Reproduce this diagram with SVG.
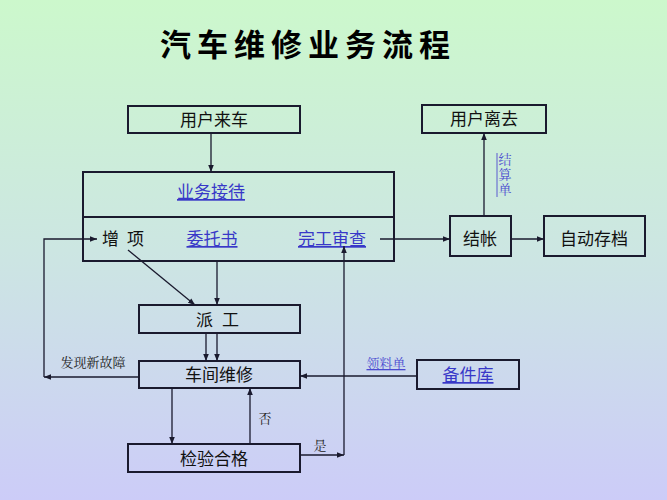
<svg xmlns="http://www.w3.org/2000/svg" width="667" height="500" viewBox="0 0 667 500">
<defs>
<linearGradient id="bg" x1="0" y1="0" x2="0" y2="1">
<stop offset="0" stop-color="#ccf8cc"/>
<stop offset="0.5" stop-color="#cce6e2"/>
<stop offset="1" stop-color="#ccccf8"/>
</linearGradient>
<marker id="ah" viewBox="0 0 10 10" refX="10" refY="5" markerWidth="7" markerHeight="7" orient="auto" markerUnits="userSpaceOnUse">
<path d="M0,1 L10,5 L0,9 z" fill="#1a1a2e"/>
</marker>
<style>
.box{fill:none;stroke:#1a1a2e;stroke-width:2}
.t{font-family:"Liberation Sans","Noto Sans CJK SC",sans-serif;font-size:17px;fill:#111;text-anchor:middle}
.link{font-family:"Liberation Sans","Noto Sans CJK SC",sans-serif;font-size:17px;fill:#3838c8;text-anchor:middle;text-decoration:underline}
.lbl{font-family:"Noto Serif CJK SC","Noto Sans CJK SC",serif;font-size:13px;fill:#222;text-anchor:middle}
.lbllink{font-family:"Noto Serif CJK SC","Noto Sans CJK SC",serif;font-size:13px;fill:#4a4ad0;text-anchor:middle;text-decoration:underline}
.c{fill:none;stroke:#1a1a2e;stroke-width:1.3}
</style>
</defs>
<rect width="667" height="500" fill="url(#bg)"/>
<text x="308" y="56" font-family="Noto Sans CJK SC,sans-serif" font-size="31" font-weight="bold" fill="#000" text-anchor="middle" letter-spacing="6">汽车维修业务流程</text>

<g id="node-arrive"><rect class="box" x="128" y="106" width="172" height="27"/><text class="t" x="214" y="126">用户来车</text></g>
<g id="node-leave"><rect class="box" x="422" y="105" width="124" height="28"/><text class="t" x="484" y="125">用户离去</text></g>
<g id="node-reception">
<rect class="box" x="83" y="172" width="311" height="89"/>
<line class="box" x1="83" y1="217" x2="394" y2="217"/>
<text class="link" x="211" y="198">业务接待</text>
<text class="t" x="127" y="245" letter-spacing="8">增项</text>
<text class="link" x="212" y="245">委托书</text>
<text class="link" x="332" y="245">完工审查</text>
</g>
<g id="node-checkout"><rect class="box" x="450" y="216" width="61" height="40"/><text class="t" x="480" y="245">结帐</text></g>
<g id="node-archive"><rect class="box" x="544" y="216" width="101" height="40"/><text class="t" x="594" y="245">自动存档</text></g>
<g id="node-dispatch"><rect class="box" x="139" y="305" width="161" height="28"/><text class="t" x="222" y="326" letter-spacing="9">派工</text></g>
<g id="node-repair"><rect class="box" x="139" y="361" width="161" height="27"/><text class="t" x="219" y="381">车间维修</text></g>
<g id="node-inspect"><rect class="box" x="128" y="444" width="172" height="28"/><text class="t" x="214" y="465">检验合格</text></g>
<g id="node-parts"><rect class="box" x="417" y="360" width="102" height="29"/><text class="link" x="468" y="381">备件库</text></g>

<g id="connectors">
<line class="c" x1="211" y1="133" x2="211" y2="172" marker-end="url(#ah)"/>
<line class="c" x1="380" y1="239" x2="450" y2="239" marker-end="url(#ah)"/>
<line class="c" x1="484" y1="216" x2="484" y2="133" marker-end="url(#ah)"/>
<line class="c" x1="511" y1="239" x2="544" y2="239" marker-end="url(#ah)"/>
<line class="c" x1="128" y1="250" x2="195" y2="305" marker-end="url(#ah)"/>
<line class="c" x1="217" y1="261" x2="217" y2="305" marker-end="url(#ah)"/>
<line class="c" x1="206" y1="333" x2="206" y2="361" marker-end="url(#ah)"/>
<line class="c" x1="217" y1="333" x2="217" y2="361" marker-end="url(#ah)"/>
<line class="c" x1="139" y1="377" x2="44" y2="377" marker-end="url(#ah)"/>
<polyline class="c" points="44,377 44,239 97,239" marker-end="url(#ah)"/>
<line class="c" x1="172" y1="388" x2="172" y2="444" marker-end="url(#ah)"/>
<line class="c" x1="250" y1="444" x2="250" y2="388" marker-end="url(#ah)"/>
<line class="c" x1="300" y1="455" x2="344" y2="455" marker-end="url(#ah)"/>
<line class="c" x1="344" y1="455" x2="344" y2="246" marker-end="url(#ah)"/>
<line class="c" x1="417" y1="376" x2="300" y2="376" marker-end="url(#ah)"/>
<text class="lbl" x="93" y="367">发现新故障</text>
<text class="lbl" x="265" y="423">否</text>
<text class="lbl" x="320" y="450">是</text>
<text class="lbllink" x="386" y="368">领料单</text>
<line x1="497" y1="153" x2="497" y2="197" stroke="#5a5ad0" stroke-width="1"/>
<text x="505" y="153" font-family="Noto Serif CJK SC,Noto Sans CJK SC,serif" font-size="13" fill="#4a4ad0" style="writing-mode:vertical-rl;text-orientation:upright;letter-spacing:2px">结算单</text>
</g>
</svg>
